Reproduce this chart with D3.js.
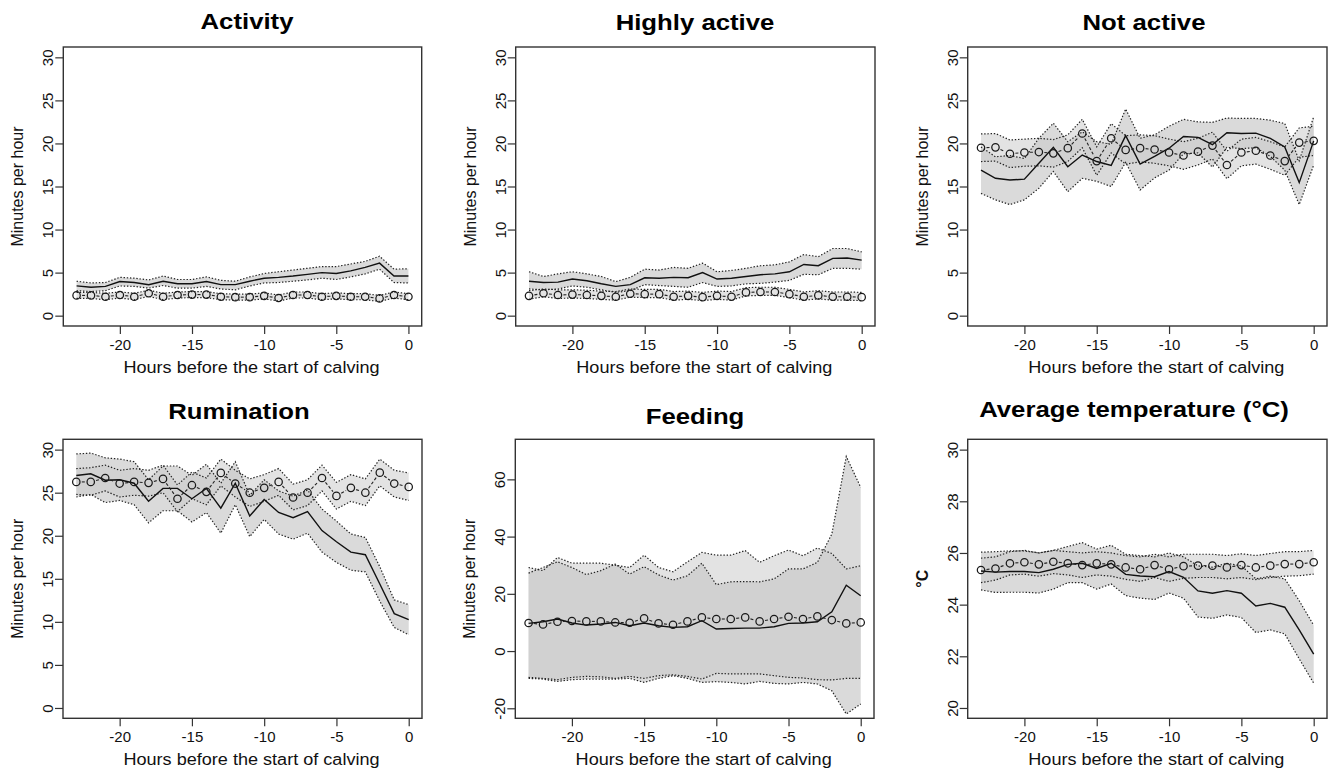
<!DOCTYPE html>
<html>
<head>
<meta charset="utf-8">
<script src="https://cdn.jsdelivr.net/npm/d3@7"></script>
<style>
  body { margin: 0; background: #fff; }
  svg { display: block; font-family: "Liberation Sans", Arial, Helvetica, sans-serif; }
</style>
</head>
<body>
<svg id="canvas" width="1330" height="774"></svg>
<script>
'use strict';

/* hours before the start of calving (x axis) */
var hours = [-23, -22, -21, -20, -19, -18, -17, -16, -15, -14, -13, -12,
             -11, -10, -9, -8, -7, -6, -5, -4, -3, -2, -1, 0];
var xTicks = [-20, -15, -10, -5, 0];
var minuteTicks = [0, 5, 10, 15, 20, 25, 30];
var feedTicks = [-20, 0, 20, 40, 60];
var tempTicks = [20, 22, 24, 26, 28, 30];

/* Activity: calving mean (line) + band, control mean (circles) + band */
var actMean = [3.46, 3.3, 3.4, 3.96, 3.85, 3.6, 4.0, 3.7, 3.7, 3.96, 3.6, 3.6, 4.0, 4.35, 4.45, 4.6, 4.8, 5.0, 4.9, 5.2, 5.6, 6.1, 4.6, 4.6];
var actHi   = [4.0, 3.8, 3.85, 4.45, 4.35, 4.15, 4.6, 4.2, 4.2, 4.5, 4.1, 4.0, 4.5, 4.9, 5.1, 5.3, 5.5, 5.7, 5.7, 6.0, 6.3, 6.9, 5.4, 5.45];
var actLo   = [2.9, 2.8, 2.9, 3.45, 3.4, 3.2, 3.5, 3.2, 3.2, 3.4, 3.1, 3.0, 3.45, 3.8, 3.85, 4.0, 4.15, 4.35, 4.2, 4.5, 4.85, 5.4, 3.85, 3.8];
var actCtrl   = [2.35, 2.35, 2.2, 2.4, 2.2, 2.6, 2.2, 2.4, 2.45, 2.45, 2.2, 2.15, 2.15, 2.3, 2.05, 2.4, 2.4, 2.2, 2.3, 2.2, 2.2, 2.0, 2.4, 2.2];
var actCtrlHi = [2.7, 2.7, 2.6, 2.75, 2.6, 2.95, 2.6, 2.75, 2.8, 2.8, 2.55, 2.5, 2.5, 2.65, 2.4, 2.75, 2.75, 2.55, 2.65, 2.55, 2.55, 2.35, 2.75, 2.55];
var actCtrlLo = [2.0, 2.0, 1.85, 2.05, 1.85, 2.25, 1.85, 2.05, 2.1, 2.1, 1.85, 1.8, 1.8, 1.95, 1.7, 2.05, 2.05, 1.85, 1.95, 1.85, 1.85, 1.65, 2.05, 1.85];

/* Highly active */
var haMean = [4.0, 3.85, 3.9, 4.25, 4.05, 3.7, 3.4, 3.6, 4.4, 4.35, 4.45, 4.4, 5.0, 4.25, 4.35, 4.55, 4.75, 4.85, 5.1, 5.95, 5.8, 6.65, 6.7, 6.45];
var haHi   = [5.1, 4.55, 4.85, 5.1, 4.85, 4.55, 3.95, 4.45, 5.4, 5.3, 5.6, 5.5, 6.1, 5.1, 5.25, 5.5, 5.8, 5.9, 6.25, 7.1, 6.85, 7.8, 7.8, 7.4];
var haLo   = [3.1, 3.0, 3.1, 3.45, 3.3, 3.0, 2.7, 2.9, 3.6, 3.5, 3.4, 3.3, 3.85, 3.4, 3.45, 3.7, 3.75, 3.9, 4.1, 4.8, 4.75, 5.5, 5.5, 5.4];
var haCtrl   = [2.3, 2.6, 2.4, 2.45, 2.4, 2.3, 2.2, 2.55, 2.5, 2.5, 2.2, 2.3, 2.15, 2.3, 2.2, 2.7, 2.75, 2.75, 2.5, 2.2, 2.35, 2.2, 2.2, 2.15];
var haCtrlHi = [2.9, 3.1, 3.0, 3.0, 2.95, 2.85, 2.8, 3.1, 3.05, 3.05, 2.8, 2.85, 2.7, 2.85, 2.8, 3.25, 3.3, 3.3, 3.05, 2.75, 2.9, 2.75, 2.75, 2.7];
var haCtrlLo = [1.9, 2.2, 2.0, 2.05, 2.0, 1.9, 1.8, 2.15, 2.1, 2.1, 1.8, 1.9, 1.75, 1.9, 1.8, 2.3, 2.35, 2.35, 2.1, 1.8, 1.95, 1.8, 1.8, 1.75];

/* Not active */
var naMean = [16.9, 15.95, 15.75, 15.85, 17.7, 19.55, 17.3, 18.65, 17.9, 17.45, 20.9, 17.6, 18.5, 19.45, 20.8, 20.7, 19.85, 21.25, 21.15, 21.2, 20.6, 19.6, 15.45, 20.3];
var naHi   = [19.6, 18.45, 18.6, 18.25, 20.6, 22.35, 20.2, 21.35, 20.2, 19.9, 24.0, 20.6, 21.0, 22.0, 22.8, 22.5, 22.45, 22.95, 22.9, 22.9, 22.7, 22.3, 18.0, 23.1];
var naLo   = [14.2, 13.45, 12.9, 13.45, 14.8, 16.75, 14.4, 15.95, 15.6, 15.0, 17.8, 14.6, 16.0, 16.9, 18.8, 18.9, 17.25, 19.55, 19.4, 19.5, 18.5, 16.9, 12.9, 17.5];
var naCtrl   = [19.5, 19.55, 18.8, 18.95, 19.0, 18.85, 19.45, 21.15, 17.95, 20.6, 19.25, 19.45, 19.3, 18.95, 18.6, 19.05, 19.75, 17.5, 18.95, 19.15, 18.6, 17.95, 20.1, 20.3];
var naCtrlHi = [21.1, 21.15, 20.4, 20.5, 20.6, 20.45, 21.0, 22.8, 19.6, 22.3, 20.9, 21.0, 20.9, 20.5, 20.2, 20.6, 21.3, 19.1, 20.5, 20.7, 20.2, 19.6, 21.8, 22.0];
var naCtrlLo = [17.9, 17.95, 17.2, 17.35, 17.4, 17.25, 17.9, 19.5, 16.3, 18.9, 17.6, 17.85, 17.7, 17.4, 17.0, 17.5, 18.2, 15.9, 17.4, 17.6, 17.0, 16.3, 18.4, 18.6];

/* Rumination */
var rumMean = [27.0, 27.2, 26.45, 26.5, 26.1, 24.0, 25.5, 25.5, 24.3, 25.5, 23.2, 26.1, 22.3, 24.2, 22.7, 22.1, 22.8, 20.6, 19.3, 18.1, 17.8, 14.4, 10.95, 10.25];
var rumHi   = [29.5, 29.6, 29.05, 28.9, 28.6, 26.5, 28.1, 28.1, 27.0, 28.3, 26.1, 28.6, 24.7, 26.5, 25.2, 24.6, 25.3, 23.1, 21.7, 20.2, 19.8, 16.4, 12.55, 12.0];
var rumLo   = [24.5, 24.8, 23.85, 24.1, 23.6, 21.5, 22.9, 22.9, 21.6, 22.7, 20.3, 23.6, 19.9, 21.9, 20.2, 19.6, 20.3, 18.1, 16.9, 16.0, 15.8, 12.4, 9.35, 8.5];
var rumCtrl   = [26.25, 26.25, 26.7, 26.06, 26.25, 26.14, 26.6, 24.3, 25.87, 25.1, 27.3, 26.06, 25.0, 25.56, 26.25, 24.44, 25.0, 26.7, 24.63, 25.56, 25.0, 27.33, 26.06, 25.67];
var rumCtrlHi = [27.8, 27.9, 28.2, 27.6, 27.8, 27.6, 28.2, 25.9, 27.4, 26.7, 28.9, 27.6, 26.6, 27.1, 27.8, 26.0, 26.5, 28.2, 26.2, 27.1, 26.6, 28.9, 27.6, 27.3];
var rumCtrlLo = [24.8, 24.7, 25.2, 24.5, 24.7, 24.6, 25.0, 22.8, 24.3, 23.6, 25.8, 24.5, 23.4, 24.0, 24.7, 23.0, 23.5, 25.2, 23.1, 24.0, 23.5, 25.8, 24.5, 24.1];

/* Feeding */
var feedMean = [9.66, 10.24, 11.2, 9.8, 9.08, 9.43, 10.0, 8.85, 9.8, 8.85, 8.27, 8.5, 10.6, 7.7, 7.9, 8.03, 8.03, 8.5, 9.66, 9.8, 10.24, 13.74, 23.0, 19.33];
var feedHi   = [27.25, 29.2, 31.2, 29.2, 26.7, 28.1, 30.4, 26.9, 29.5, 26.6, 24.8, 26.3, 30.7, 23.2, 24.2, 24.3, 24.2, 25.2, 28.7, 28.7, 31.0, 40.9, 68.0, 57.2];
var feedLo   = [-9.55, -9.8, -10.6, -10.0, -9.8, -9.8, -9.8, -9.55, -10.95, -9.55, -8.6, -9.55, -10.95, -10.7, -10.95, -11.5, -10.6, -11.3, -11.5, -10.95, -11.5, -13.9, -22.0, -18.5];
var feedCtrl   = [9.8, 9.3, 10.24, 10.5, 10.36, 10.36, 10.0, 9.9, 11.4, 9.66, 9.2, 10.36, 11.76, 11.2, 11.2, 11.76, 10.36, 11.2, 12.0, 11.2, 12.1, 10.83, 9.66, 10.0];
var feedCtrlHi = [29.2, 28.1, 32.7, 30.7, 30.7, 30.7, 30.0, 29.2, 33.5, 29.2, 27.7, 31.2, 34.5, 33.5, 33.5, 35.1, 31.0, 33.3, 35.3, 33.3, 36.0, 34.1, 28.7, 29.8];
var feedCtrlLo = [-9.2, -9.55, -10.0, -9.2, -8.85, -9.0, -9.55, -8.85, -9.55, -8.6, -8.3, -8.85, -9.8, -7.8, -8.0, -8.0, -8.0, -8.6, -9.2, -9.4, -10.0, -10.1, -9.55, -9.55];

/* Average temperature (°C) */
var tempMean = [25.3, 25.26, 25.28, 25.28, 25.24, 25.37, 25.56, 25.6, 25.4, 25.6, 25.17, 25.11, 25.08, 25.28, 25.06, 24.53, 24.44, 24.54, 24.44, 23.95, 24.05, 23.9, 23.02, 22.08];
var tempHi   = [26.03, 26.05, 26.08, 26.08, 26.0, 26.1, 26.25, 26.4, 26.15, 26.3, 25.95, 25.9, 25.85, 26.0, 25.85, 25.5, 25.45, 25.6, 25.5, 25.0, 25.1, 25.0, 24.15, 23.2];
var tempLo   = [24.57, 24.47, 24.48, 24.48, 24.45, 24.6, 24.85, 24.85, 24.6, 24.8, 24.35, 24.25, 24.2, 24.45, 24.25, 23.52, 23.47, 23.6, 23.5, 22.92, 23.02, 22.87, 21.9, 20.96];
var tempCtrl   = [25.34, 25.4, 25.6, 25.64, 25.56, 25.66, 25.6, 25.53, 25.6, 25.56, 25.44, 25.37, 25.53, 25.37, 25.49, 25.51, 25.51, 25.44, 25.53, 25.44, 25.51, 25.57, 25.57, 25.64];
var tempCtrlHi = [25.8, 25.85, 26.05, 26.1, 26.0, 26.1, 26.05, 26.0, 26.05, 26.0, 25.9, 25.85, 25.95, 25.85, 25.95, 25.95, 25.95, 25.9, 25.97, 25.9, 25.98, 26.05, 26.05, 26.1];
var tempCtrlLo = [24.85, 24.95, 25.15, 25.18, 25.1, 25.2, 25.15, 25.05, 25.15, 25.1, 24.98, 24.9, 25.05, 24.9, 25.02, 25.05, 25.05, 25.0, 25.05, 24.97, 25.05, 25.1, 25.12, 25.18];

/* panel layout (pixel boxes of each plotting region) */
var topRow = {t: 47, b: 326};
var botRow = {t: 439.3, b: 718.3};

var panels = [
  {title: 'Activity', ylab: 'Minutes per hour', l: 63.3, r: 421.7, row: topRow, titleX: 247, titleY: 29,
   yDomain: [-1.2, 31.2], yTicks: minuteTicks,
   mean: actMean, hi: actHi, lo: actLo, ctrl: actCtrl, ctrlHi: actCtrlHi, ctrlLo: actCtrlLo},
  {title: 'Highly active', ylab: 'Minutes per hour', l: 515.7, r: 875, row: topRow, titleX: 695, titleY: 30,
   yDomain: [-1.2, 31.2], yTicks: minuteTicks,
   mean: haMean, hi: haHi, lo: haLo, ctrl: haCtrl, ctrlHi: haCtrlHi, ctrlLo: haCtrlLo},
  {title: 'Not active', ylab: 'Minutes per hour', l: 967.7, r: 1327, row: topRow, titleX: 1144, titleY: 30,
   yDomain: [-1.2, 31.2], yTicks: minuteTicks,
   mean: naMean, hi: naHi, lo: naLo, ctrl: naCtrl, ctrlHi: naCtrlHi, ctrlLo: naCtrlLo},
  {title: 'Rumination', ylab: 'Minutes per hour', l: 63, r: 422, row: botRow, titleX: 239, titleY: 419,
   yDomain: [-1.2, 31.2], yTicks: minuteTicks,
   mean: rumMean, hi: rumHi, lo: rumLo, ctrl: rumCtrl, ctrlHi: rumCtrlHi, ctrlLo: rumCtrlLo},
  {title: 'Feeding', ylab: 'Minutes per hour', l: 515.3, r: 874, row: botRow, titleX: 695, titleY: 424,
   yDomain: [-23.5, 74], yTicks: feedTicks,
   mean: feedMean, hi: feedHi, lo: feedLo, ctrl: feedCtrl, ctrlHi: feedCtrlHi, ctrlLo: feedCtrlLo},
  {title: 'Average temperature (°C)', ylab: '°C', ylabBold: true, l: 967.7, r: 1327, row: botRow, titleX: 1134, titleY: 417,
   yDomain: [19.6, 30.4], yTicks: tempTicks,
   mean: tempMean, hi: tempHi, lo: tempLo, ctrl: tempCtrl, ctrlHi: tempCtrlHi, ctrlLo: tempCtrlLo}
];

var svg = d3.select('svg#canvas');

/**
 * Draw one panel: bands, lines, circles, axes, box and labels
 */
function drawPanel(p){
  let t = p.row.t, b = p.row.b;
  let x = d3.scaleLinear().domain([-23.92, 0.92]).range([p.l, p.r]);
  let y = d3.scaleLinear().domain(p.yDomain).range([b, t]);
  let g = svg.append('g').attr('class', 'panel');

  /* confidence bands: calving (darker) and control (lighter) */
  let band = function(lo, hi){
    return d3.area()
      .x(function(d, i){ return x(hours[i]); })
      .y0(function(d, i){ return y(lo[i]); })
      .y1(function(d, i){ return y(hi[i]); })(hours);
  };
  let path = function(vals){
    return d3.line()
      .x(function(d, i){ return x(hours[i]); })
      .y(function(d, i){ return y(vals[i]); })(hours);
  };

  g.append('path').attr('d', band(p.lo, p.hi))
    .attr('fill', 'rgb(185,185,185)').attr('fill-opacity', 0.52);
  g.append('path').attr('d', band(p.ctrlLo, p.ctrlHi))
    .attr('fill', 'rgb(200,200,200)').attr('fill-opacity', 0.5);

  /* dotted band borders */
  [p.hi, p.lo, p.ctrlHi, p.ctrlLo].forEach(function(v){
    g.append('path').attr('d', path(v))
      .attr('fill', 'none').attr('stroke', '#222')
      .attr('stroke-width', 1.2).attr('stroke-dasharray', '1.4,1.8');
  });

  /* calving mean: solid line */
  g.append('path').attr('d', path(p.mean))
    .attr('fill', 'none').attr('stroke', '#111').attr('stroke-width', 1.4);

  /* control mean: circles joined by dashed segments with gaps (type = "b") */
  let r = 3.7, gap = r + 1.8;
  for(let i = 0; i < hours.length - 1; i++){
    let x0 = x(hours[i]), y0 = y(p.ctrl[i]);
    let x1 = x(hours[i+1]), y1 = y(p.ctrl[i+1]);
    let len = Math.hypot(x1 - x0, y1 - y0);
    if(len <= 2 * gap) continue;
    let ux = (x1 - x0) / len, uy = (y1 - y0) / len;
    g.append('line')
      .attr('x1', x0 + ux * gap).attr('y1', y0 + uy * gap)
      .attr('x2', x1 - ux * gap).attr('y2', y1 - uy * gap)
      .attr('stroke', '#222').attr('stroke-width', 1.1)
      .attr('stroke-dasharray', '3,2');
  }
  g.selectAll('circle.ctrl').data(p.ctrl).enter().append('circle')
    .attr('class', 'ctrl')
    .attr('cx', function(d, i){ return x(hours[i]); })
    .attr('cy', function(d){ return y(d); })
    .attr('r', r)
    .attr('fill', 'none').attr('stroke', '#1a1a1a').attr('stroke-width', 1.25);

  /* axes */
  let xa = g.append('g')
    .attr('transform', 'translate(0,' + b + ')')
    .call(d3.axisBottom(x).tickValues(xTicks).tickSize(8).tickSizeOuter(0)
      .tickFormat(function(d){ return String(d); }));
  let ya = g.append('g')
    .attr('transform', 'translate(' + p.l + ',0)')
    .call(d3.axisLeft(y).tickValues(p.yTicks).tickSize(8).tickSizeOuter(0)
      .tickFormat(function(d){ return String(d); }));
  [xa, ya].forEach(function(a){
    a.select('.domain').remove();
    a.selectAll('line').attr('stroke', '#333').attr('stroke-width', 1.2);
    a.selectAll('text').attr('fill', '#111').style('font-size', '15px')
      .style('font-family', '"Liberation Sans", Arial, sans-serif');
  });
  xa.selectAll('text').attr('y', 24).attr('dy', 0);
  ya.selectAll('text')
    .attr('transform', 'rotate(-90)')
    .attr('x', 0).attr('y', -10).attr('dy', 0)
    .attr('text-anchor', 'middle');

  /* plot box */
  g.append('rect')
    .attr('x', p.l).attr('y', t)
    .attr('width', p.r - p.l).attr('height', b - t)
    .attr('fill', 'none').attr('stroke', '#333').attr('stroke-width', 1.4);

  /* title (R output was stretched horizontally, hence the scale) */
  g.append('text')
    .attr('transform', 'translate(' + p.titleX + ',' + p.titleY + ') scale(1.17,1)')
    .attr('text-anchor', 'middle')
    .style('font-size', '22px').style('font-weight', 'bold')
    .attr('fill', '#000')
    .text(p.title);

  /* x axis label */
  g.append('text')
    .attr('transform', 'translate(' + ((p.l + p.r) / 2 + 9) + ',' + (b + 47) + ') scale(1.13,1)')
    .attr('text-anchor', 'middle')
    .style('font-size', '16px').attr('fill', '#111')
    .text('Hours before the start of calving');

  /* y axis label */
  g.append('text')
    .attr('transform', 'translate(' + (p.l - 40) + ',' + ((t + b) / 2) + ') rotate(-90)')
    .attr('text-anchor', 'middle')
    .style('font-size', '16px').style('font-weight', p.ylabBold ? 'bold' : 'normal')
    .attr('fill', '#111')
    .text(p.ylab);
}

panels.forEach(drawPanel);
</script>
</body>
</html>
